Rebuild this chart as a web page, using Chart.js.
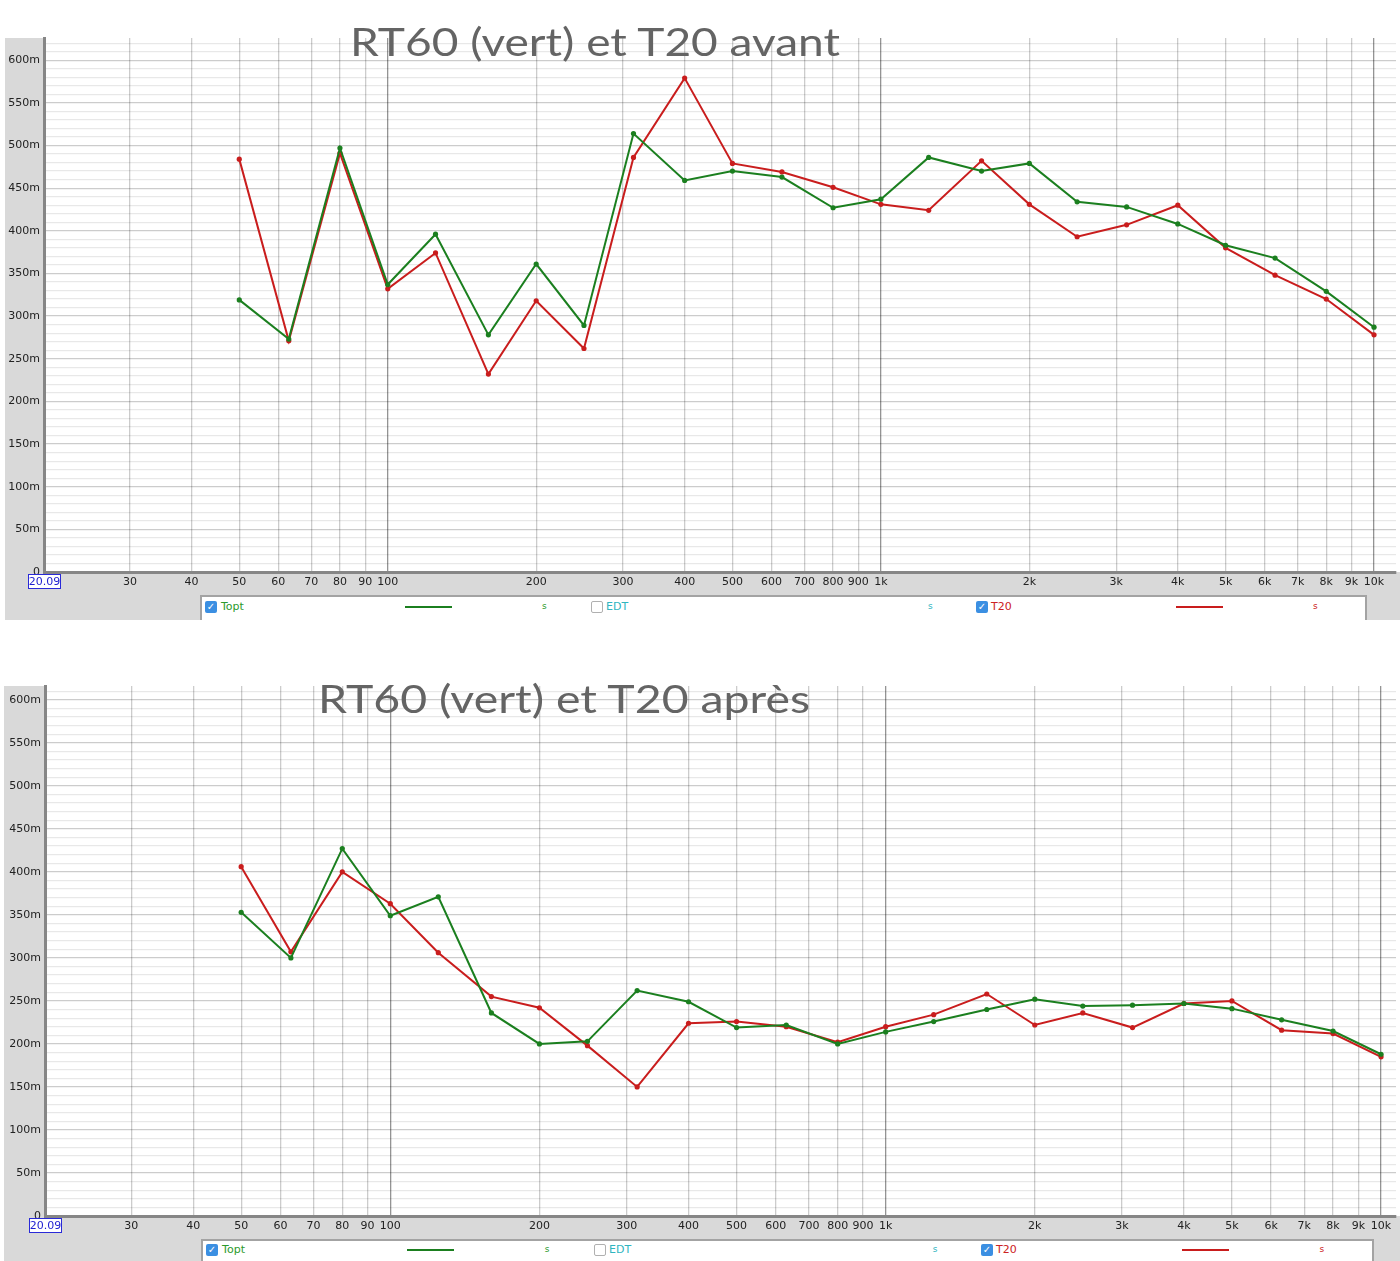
<!DOCTYPE html>
<html>
<head>
<meta charset="utf-8">
<script src="https://cdn.jsdelivr.net/npm/chart.js@4.4.1/dist/chart.umd.min.js"></script>
<style>
    body { margin: 0; width: 1400px; height: 1261px; background: #fff; position: relative; overflow: hidden; font-family: "DejaVu Sans", sans-serif; }
    .frame { position: absolute; background: #d9d9d9; }
    canvas { position: absolute; left: 0; }
    .legend { position: absolute; background: #fff; border-left: 2px solid #a3a3a3; border-top: 2px solid #a3a3a3; border-right: 2px solid #a3a3a3; box-sizing: border-box; font-size: 11px; }
    .legend span { position: absolute; white-space: nowrap; }
    .cb { width: 12px; height: 12px; border-radius: 2px; box-sizing: border-box; }
    .cb.on { background: #3b8fe2; color: #fff; font-size: 10px; line-height: 12px; text-align: center; font-weight: bold; }
    .cb.off { background: #fff; border: 1px solid #b0b0b0; }
    .swatch { height: 2px; }
    .unit { font-size: 9px; }
    svg.titles { position: absolute; left: 0; top: 0; pointer-events: none; }
</style>
</head>
<body>
<div class="frame" style="left:5px;top:38px;width:1395px;height:582px"></div>
<canvas id="chartAvant" width="1400" height="592" style="top:0"></canvas>
<div class="legend" id="legendAvant" style="left:200px;top:595px;width:1167px;height:25px"></div>

<div class="frame" style="left:4px;top:686px;width:1396px;height:575px"></div>
<canvas id="chartApres" width="1400" height="588" style="top:648px"></canvas>
<div class="legend" id="legendApres" style="left:201px;top:1239px;width:1173px;height:22px"></div>

<svg class="titles" width="1400" height="1261">
    <text x="350" y="56" textLength="490" lengthAdjust="spacingAndGlyphs" font-family="Lato, sans-serif" font-weight="400" font-size="38" fill="#646464">RT60 (vert) et T20 avant</text>
    <text x="318" y="713" textLength="492" lengthAdjust="spacingAndGlyphs" font-family="Lato, sans-serif" font-weight="400" font-size="38" fill="#646464">RT60 (vert) et T20 après</text>
</svg>

<script>
document.addEventListener('DOMContentLoaded', function() {
    // 1/3 octave bands (Hz)
    const freqs = [50, 63, 80, 100, 125, 160, 200, 250, 315, 400, 500, 630, 800, 1000, 1250, 1600, 2000, 2500, 3150, 4000, 5000, 6300, 8000, 10000];

    // values in ms (axis shows "m" = milliseconds)
    const toptAvant = [319, 273, 497, 337, 396, 278, 361, 289, 514, 459, 470, 463, 427, 437, 486, 470, 479, 434, 428, 408, 383, 368, 329, 287];
    const t20Avant  = [484, 271, 491, 332, 374, 232, 318, 262, 486, 579, 479, 469, 451, 431, 424, 482, 431, 393, 407, 430, 380, 348, 320, 278];
    const toptApres = [353, 300, 427, 349, 371, 236, 200, 203, 262, 249, 219, 222, 200, 214, 226, 240, 252, 244, 245, 247, 241, 228, 215, 188];
    const t20Apres  = [406, 307, 400, 363, 306, 255, 242, 198, 150, 224, 226, 220, 202, 220, 234, 258, 222, 236, 219, 247, 250, 216, 212, 185];

    const xTickValues = [20.09, 30, 40, 50, 60, 70, 80, 90, 100, 200, 300, 400, 500, 600, 700, 800, 900, 1000, 2000, 3000, 4000, 5000, 6000, 7000, 8000, 9000, 10000];
    const xTickLabels = ['20.09', '30', '40', '50', '60', '70', '80', '90', '100', '200', '300', '400', '500', '600', '700', '800', '900', '1k', '2k', '3k', '4k', '5k', '6k', '7k', '8k', '9k', '10k'];
    const xMajor = [100, 1000, 10000];
    const yLabelValues = [0, 50, 100, 150, 200, 250, 300, 350, 400, 450, 500, 550, 600];
    const yLabels = ['0', '50m', '100m', '150m', '200m', '250m', '300m', '350m', '400m', '450m', '500m', '550m', '600m'];

    const green = '#1b7f1f';
    const red = '#c91d1d';

    // white plot background + blue box round the start frequency
    const framePlugin = {
        id: 'frame',
        beforeDraw(chart) {
            const a = chart.chartArea;
            const ctx = chart.ctx;
            ctx.save();
            ctx.fillStyle = '#fff';
            ctx.fillRect(a.left, a.top, chart.width - a.left, a.bottom - a.top);
            ctx.restore();
        },
        afterDraw(chart) {
            const a = chart.chartArea;
            const ctx = chart.ctx;
            ctx.save();
            ctx.fillStyle = '#fff';
            ctx.fillRect(a.left - 15, a.bottom + 2, 32, 14);
            ctx.strokeStyle = '#2a2ad8';
            ctx.lineWidth = 1;
            ctx.strokeRect(a.left - 15.5, a.bottom + 2.5, 32, 14);
            ctx.fillStyle = '#1e1ed0';
            ctx.font = '11px "DejaVu Sans"';
            ctx.textAlign = 'center';
            ctx.textBaseline = 'middle';
            ctx.fillText(xTickLabels[0], a.left + 0.5, a.bottom + 10);
            ctx.restore();
        }
    };

    function series(label, values, color) {
        return {
            label: label,
            data: freqs.map((f, i) => ({ x: f, y: values[i] })),
            borderColor: color,
            backgroundColor: color,
            borderWidth: 2,
            pointRadius: 2.6,
            pointBorderWidth: 0,
            tension: 0
        };
    }

    function makeChart(id, topt, t20, xMax, yMax, yWidth) {
        return new Chart(document.getElementById(id), {
            type: 'line',
            data: { datasets: [series('Topt', topt, green), series('T20', t20, red)] },
            plugins: [framePlugin],
            options: {
                responsive: false,
                animation: false,
                devicePixelRatio: 1,
                layout: { padding: { top: 38, left: 0, right: 0, bottom: 0 } },
                plugins: { legend: { display: false }, tooltip: { enabled: false } },
                scales: {
                    x: {
                        type: 'logarithmic',
                        bounds: 'data',
                        min: 20.09,
                        max: xMax,
                        afterBuildTicks: s => { s.ticks = xTickValues.map(v => ({ value: v })); },
                        afterFit: s => { s.height = 20; },
                        ticks: {
                            autoSkip: false,
                            maxRotation: 0,
                            padding: 4,
                            color: '#222',
                            font: { size: 11, family: 'DejaVu Sans' },
                            callback: (v, i) => i === 0 ? '' : xTickLabels[i]
                        },
                        grid: {
                            drawTicks: false,
                            lineWidth: 1.3,
                            color: c => xMajor.includes(c.tick.value) ? 'rgba(0,0,0,0.42)' : 'rgba(0,0,0,0.2)'
                        },
                        border: { color: '#868686', width: 3 }
                    },
                    y: {
                        bounds: 'data',
                        min: 0,
                        max: yMax,
                        afterBuildTicks: s => {
                            const t = [];
                            for (let v = 0; v <= yMax; v += 10) t.push({ value: v });
                            s.ticks = t;
                        },
                        afterFit: s => { s.width = yWidth; },
                        ticks: {
                            autoSkip: false,
                            padding: 4,
                            color: '#222',
                            font: { size: 11, family: 'DejaVu Sans' },
                            callback: v => {
                                const k = yLabelValues.indexOf(v);
                                return k >= 0 ? yLabels[k] : '';
                            }
                        },
                        grid: {
                            drawTicks: false,
                            lineWidth: 1.2,
                            color: c => c.tick.value % 50 === 0 ? 'rgba(0,0,0,0.2)' : 'rgba(0,0,0,0.09)'
                        },
                        border: { color: '#868686', width: 3 }
                    }
                }
            }
        });
    }

    makeChart('chartAvant', toptAvant, t20Avant, 11080, 626, 44);
    makeChart('chartApres', toptApres, t20Apres, 10720, 616, 45);

    // REW style legend strip
    function buildLegend(id, k, midY) {
        const el = document.getElementById(id);
        const items = [
            { x: 5, cls: 'cb on', text: '✓' },
            { x: 21, text: 'Topt', color: '#2c9a2c' },
            { x: 205, sw: green, w: 47 },
            { x: 342, text: 's', color: '#2c9a2c', unit: true },
            { x: 391, cls: 'cb off', text: '' },
            { x: 406, text: 'EDT', color: '#2fb5bf' },
            { x: 728, text: 's', color: '#2fb5bf', unit: true },
            { x: 776, cls: 'cb on', text: '✓' },
            { x: 791, text: 'T20', color: '#cc2222' },
            { x: 976, sw: red, w: 47 },
            { x: 1113, text: 's', color: '#cc2222', unit: true }
        ];
        items.forEach(it => {
            const s = document.createElement('span');
            s.style.left = (it.x * k - 2) + 'px';
            if (it.sw) {
                s.className = 'swatch';
                s.style.width = it.w + 'px';
                s.style.background = it.sw;
                s.style.top = (midY - 1) + 'px';
            } else if (it.cls) {
                s.className = it.cls;
                s.textContent = it.text;
                s.style.top = (midY - 6) + 'px';
            } else {
                s.textContent = it.text;
                s.style.color = it.color;
                if (it.unit) s.className = 'unit';
                s.style.top = (midY - (it.unit ? 6 : 7)) + 'px';
            }
            el.appendChild(s);
        });
    }

    buildLegend('legendAvant', 1, 10);
    buildLegend('legendApres', 1.005, 9);
});
</script>
</body>
</html>
